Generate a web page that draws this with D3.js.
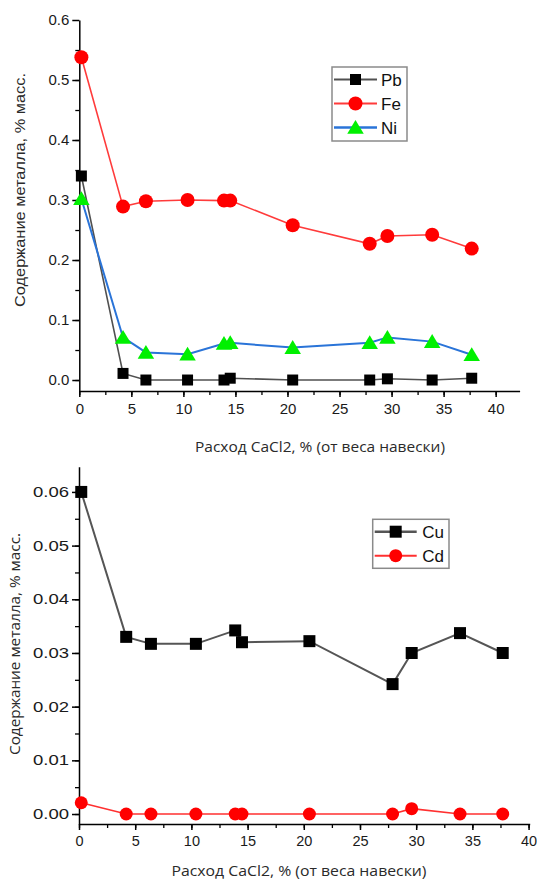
<!DOCTYPE html>
<html>
<head>
<meta charset="utf-8">
<script src="https://cdn.jsdelivr.net/npm/d3@7/dist/d3.min.js"></script>
<style>
  html, body { margin: 0; padding: 0; background: #fff; }
  svg { display: block; }
</style>
</head>
<body>
<svg id="chart" width="537" height="881"></svg>
<script>
// CaCl2 consumption, % of sample weight
const dose = [0.2, 4.2, 6.4, 10.4, 13.9, 14.5, 20.5, 27.9, 29.6, 33.9, 37.7];

// Metal content, wt. %
const pb = [0.34, 0.011, 0.0, 0.0, 0.0, 0.003, 0.0, 0.0, 0.002, 0.0, 0.003];
const fe = [0.538, 0.289, 0.298, 0.300, 0.299, 0.299, 0.258, 0.227, 0.240, 0.242, 0.219];
const ni = [0.302, 0.071, 0.046, 0.043, 0.061, 0.062, 0.054, 0.062, 0.071, 0.064, 0.042];
const cu = [0.060, 0.0330, 0.0317, 0.0317, 0.0342, 0.0320, 0.0322, 0.0242, 0.0300, 0.0337, 0.0300];
const cd = [0.0021, 0.0, 0.0, 0.0, 0.0, 0.0, 0.0, 0.0, 0.0010, 0.0, 0.0];

const topYTicks = [0.0, 0.1, 0.2, 0.3, 0.4, 0.5, 0.6];
const bottomYTicks = [0.00, 0.01, 0.02, 0.03, 0.04, 0.05, 0.06];
const xTicks = [0, 5, 10, 15, 20, 25, 30, 35, 40];

const xTitle = "Расход CaCl2, % (от веса навески)";
const yTitle = "Содержание металла, % масс.";

const svg = d3.select("#chart");

function markerPath(shape, size) {
  const h = size / 2;
  if (shape === "square") return `M${-h},${-h}H${h}V${h}H${-h}Z`;
  if (shape === "triangle") return `M0,${-size * 0.5}L${size * 0.55},${size * 0.42}L${-size * 0.55},${size * 0.42}Z`;
  return d3.symbol(d3.symbolCircle, Math.PI * h * h)();
}

function drawPanel(p) {
  const g = svg.append("g");
  const x = d3.scaleLinear().domain(p.xDomain).range(p.xRange);
  const y = d3.scaleLinear().domain(p.yDomain).range(p.yRange);

  // y axis with minor ticks
  const yMinor = d3.range(p.yDomain[0] < 0 ? 0 : p.yDomain[0], p.yDomain[1] + 1e-9, p.yMinorStep)
    .filter(v => v <= p.yDomain[1]);
  g.append("g")
    .attr("transform", `translate(${p.xRange[0]},0)`)
    .call(d3.axisLeft(y).tickValues(yMinor).tickSize(4).tickFormat(""))
    .call(a => a.select(".domain").remove())
    .selectAll("line").attr("stroke", "#000").attr("stroke-width", 1.3);
  const yAx = g.append("g")
    .attr("transform", `translate(${p.xRange[0]},0)`)
    .call(d3.axisLeft(y).tickValues(p.yTicks).tickSize(7).tickSizeOuter(0).tickPadding(3).tickFormat(p.yFormat));
  yAx.select(".domain").attr("stroke", "#000").attr("stroke-width", 1.5);
  yAx.selectAll("line").attr("stroke", "#000").attr("stroke-width", 1.5);
  yAx.selectAll("text")
    .attr("font-family", "Liberation Sans, Arial, sans-serif")
    .attr("font-size", p.tickFont).attr("fill", "#1a1a1a")
    .each(function () { if (p.yTickLen) d3.select(this).attr("textLength", p.yTickLen).attr("lengthAdjust", "spacingAndGlyphs"); });

  // x axis with minor ticks
  const xMinor = d3.range(0, p.xDomain[1] + 1e-9, 2.5);
  g.append("g")
    .attr("transform", `translate(0,${p.yRange[0]})`)
    .call(d3.axisBottom(x).tickValues(xMinor).tickSize(4).tickFormat(""))
    .call(a => a.select(".domain").remove())
    .selectAll("line").attr("stroke", "#000").attr("stroke-width", 1.3);
  const xAx = g.append("g")
    .attr("transform", `translate(0,${p.yRange[0]})`)
    .call(d3.axisBottom(x).tickValues(xTicks).tickSize(6).tickSizeOuter(0).tickPadding(6).tickFormat(d3.format("d")));
  xAx.select(".domain").attr("stroke", "#000").attr("stroke-width", 1.5);
  xAx.selectAll("line").attr("stroke", "#000").attr("stroke-width", 1.5);
  xAx.selectAll("text")
    .attr("font-family", "Liberation Sans, Arial, sans-serif")
    .attr("font-size", p.tickFont).attr("fill", "#1a1a1a");

  // axis titles
  g.append("text")
    .attr("x", p.xTitlePos[0]).attr("y", p.xTitlePos[1])
    .attr("text-anchor", "middle")
    .attr("font-family", "Open Sans, sans-serif").attr("font-size", 14)
    .attr("fill", "#2a2a2a")
    .attr("textLength", p.xTitleLen).attr("lengthAdjust", "spacingAndGlyphs")
    .text(xTitle);
  g.append("text")
    .attr("transform", `translate(${p.yTitlePos[0]},${p.yTitlePos[1]}) rotate(-90)`)
    .attr("text-anchor", "middle")
    .attr("font-family", p.yTitleFont).attr("font-size", 14.5)
    .attr("fill", "#2a2a2a")
    .attr("textLength", p.yTitleLen).attr("lengthAdjust", "spacingAndGlyphs")
    .text(yTitle);

  // series
  p.series.forEach(s => {
    const pts = dose.map((d, i) => [d, s.values[i]]);
    g.append("path")
      .attr("d", d3.line().x(d => x(d[0])).y(d => y(d[1]))(pts))
      .attr("fill", "none").attr("stroke", s.line).attr("stroke-width", s.width);
    g.selectAll(null).data(pts).join("path")
      .attr("transform", d => `translate(${x(d[0])},${y(d[1])})`)
      .attr("d", markerPath(s.shape, s.size))
      .attr("fill", s.fill);
  });

  // legend
  const L = p.legend;
  const lg = g.append("g");
  lg.append("rect")
    .attr("x", L.x).attr("y", L.y).attr("width", L.w).attr("height", L.h)
    .attr("fill", "#fff").attr("stroke", "#8a8a8a").attr("stroke-width", 1.5);
  p.series.forEach((s, i) => {
    const cy = L.y + L.first + i * L.step;
    lg.append("line")
      .attr("x1", L.x + 2).attr("x2", L.x + 2 + L.lineLen)
      .attr("y1", cy).attr("y2", cy)
      .attr("stroke", s.line).attr("stroke-width", s.width + 0.5);
    lg.append("path")
      .attr("transform", `translate(${L.x + 2 + L.lineLen / 2},${cy})`)
      .attr("d", markerPath(s.shape, s.size))
      .attr("fill", s.fill);
    lg.append("text")
      .attr("x", L.x + L.textX).attr("y", cy + 6)
      .attr("font-family", "Liberation Sans, Arial, sans-serif").attr("font-size", 17)
      .attr("fill", "#111")
      .text(s.name);
  });
}

// upper panel: Pb, Fe, Ni
drawPanel({
  xDomain: [0, 42.3], xRange: [79.3, 519.6],
  yDomain: [-0.0183, 0.6], yRange: [391, 20],
  yTicks: topYTicks, yMinorStep: 0.05, yFormat: d3.format(".1f"),
  tickFont: 15, yTickLen: null,
  xTitlePos: [320, 452], xTitleLen: 250,
  yTitlePos: [25, 190], yTitleLen: 234, yTitleFont: "Liberation Sans, Arial, sans-serif",
  series: [
    { name: "Pb", values: pb, line: "#505050", width: 1.6, fill: "#000", shape: "square", size: 11 },
    { name: "Fe", values: fe, line: "#ff3b3b", width: 1.6, fill: "#ff0000", shape: "circle", size: 14 },
    { name: "Ni", values: ni, line: "#2a74d8", width: 2, fill: "#00f000", shape: "triangle", size: 15 }
  ],
  legend: { x: 332, y: 67, w: 75, h: 74, first: 12.5, step: 24, lineLen: 43, textX: 49 }
});

// lower panel: Cu, Cd
drawPanel({
  xDomain: [0, 40.1], xRange: [79, 529.7],
  yDomain: [-0.00186, 0.0647], yRange: [824, 466.7],
  yTicks: bottomYTicks, yMinorStep: 0.005, yFormat: d3.format(".2f"),
  tickFont: 14.5, yTickLen: 36,
  xTitlePos: [299, 876], xTitleLen: 255,
  yTitlePos: [20, 644], yTitleLen: 222, yTitleFont: "Open Sans, sans-serif",
  series: [
    { name: "Cu", values: cu, line: "#555", width: 2, fill: "#000", shape: "square", size: 12 },
    { name: "Cd", values: cd, line: "#ff3030", width: 1.6, fill: "#ff0000", shape: "circle", size: 13 }
  ],
  legend: { x: 372.7, y: 519.3, w: 76.3, h: 49, first: 12.4, step: 24, lineLen: 42, textX: 49.5 }
});
</script>
</body>
</html>
